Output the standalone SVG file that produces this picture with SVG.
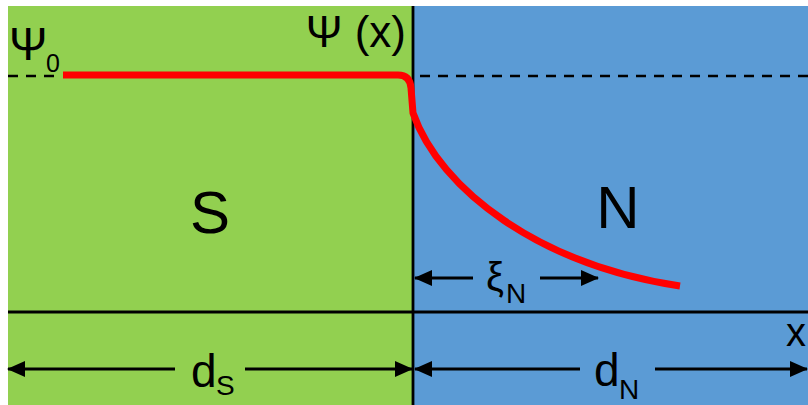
<svg xmlns="http://www.w3.org/2000/svg" width="808" height="405" viewBox="0 0 808 405">
  <style>
    .lbl { font-family: "Liberation Sans", Arial, sans-serif; fill: #000; }
    .axis { stroke: #000; stroke-width: 2.8; fill: none; }
    .dash { stroke: #000; stroke-width: 2.5; stroke-dasharray: 10 8; fill: none; }
    .dim { stroke: #000; stroke-width: 3; fill: none; marker-end: url(#arrow); }
    .psi { stroke: #FF0000; stroke-width: 7; fill: none; stroke-linejoin: round; }
  </style>
  <defs>
    <marker id="arrow" markerUnits="userSpaceOnUse" markerWidth="18" markerHeight="16" refX="17" refY="8" orient="auto" viewBox="0 0 18 16">
      <path d="M0,0 L18,8 L0,16 z" fill="#000"/>
    </marker>
  </defs>
  <rect width="808" height="405" fill="#ffffff"/>

  <g id="region-S">
    <rect x="8" y="6" width="405" height="399" fill="#92D050"/>
    <text class="lbl" x="210" y="233" font-size="60" text-anchor="middle">S</text>
  </g>

  <g id="region-N">
    <rect x="413" y="6" width="395" height="399" fill="#5B9BD5"/>
    <text class="lbl" x="618" y="228" font-size="60" text-anchor="middle">N</text>
  </g>

  <g id="labels">
    <text class="lbl" x="9" y="60" font-size="46">Ψ<tspan x="46" y="72" font-size="25">0</tspan></text>
    <text class="lbl" x="406" y="47" font-size="44" text-anchor="end">Ψ (x)</text>
    <text class="lbl" x="486" y="291" font-size="40">ξ<tspan x="506" y="303" font-size="28">N</tspan></text>
    <text class="lbl" x="191" y="387" font-size="46">d<tspan x="216" y="395" font-size="28">S</tspan></text>
    <text class="lbl" x="594" y="386" font-size="46">d<tspan x="619" y="399" font-size="28">N</tspan></text>
    <text class="lbl" x="786" y="346" font-size="40">x</text>
  </g>

  <g id="connectors">
    <line class="axis" x1="413" y1="6" x2="413" y2="405"/>
    <line class="axis" x1="8" y1="312" x2="808" y2="312"/>
    <line class="dash" x1="8" y1="76" x2="62" y2="76"/>
    <line class="dash" x1="420" y1="76" x2="808" y2="76"/>
    <line class="dim" x1="473" y1="278" x2="415" y2="278"/>
    <line class="dim" x1="540" y1="278" x2="598" y2="278"/>
    <line class="dim" x1="175" y1="369" x2="8" y2="369"/>
    <line class="dim" x1="245" y1="369" x2="412" y2="369"/>
    <line class="dim" x1="580" y1="369" x2="415" y2="369"/>
    <line class="dim" x1="655" y1="369" x2="807" y2="369"/>
    <path class="psi" d="M63,75 L398,75 Q410,75 411,88 L413,113 C440,190 540,265 680,286"/>
  </g>
</svg>
